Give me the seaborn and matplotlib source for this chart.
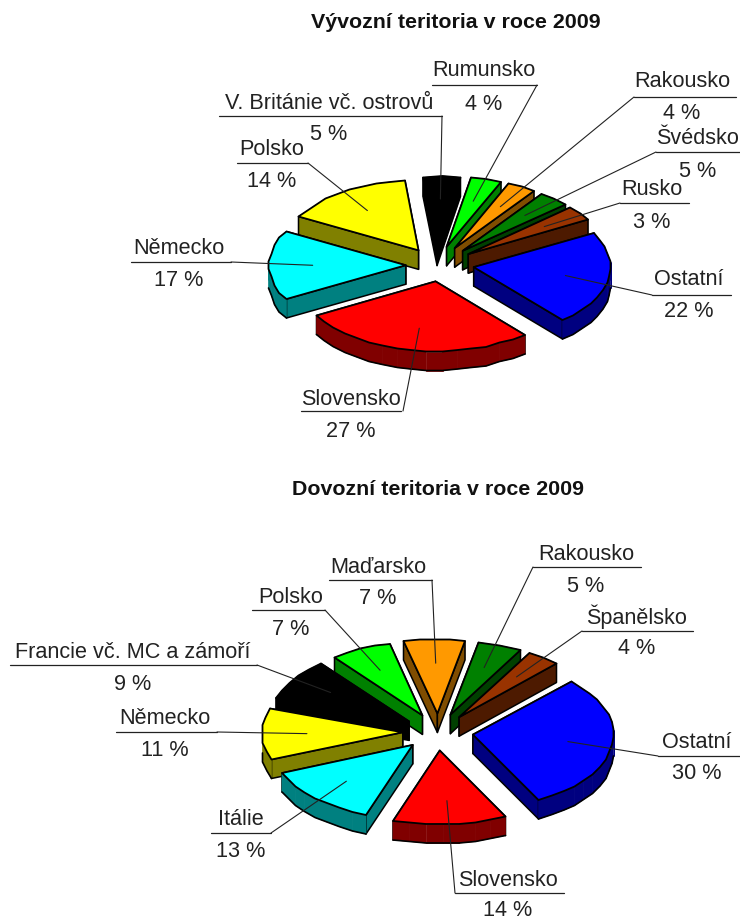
import matplotlib
matplotlib.use('Agg')
import matplotlib.pyplot as plt
import numpy as np
import seaborn as sns

# data
export_names = ['Ostatní', 'Slovensko', 'Německo', 'Polsko', 'V. Británie vč. ostrovů',
                'Rumunsko', 'Rakousko', 'Švédsko', 'Rusko']
export_values = [22, 27, 17, 14, 5, 4, 4, 5, 3]
export_colors = ['#0000ff', '#ff0000', '#00ffff', '#ffff00', '#000000',
                 '#00ff00', '#ff9900', '#008000', '#993300']

import_names = ['Ostatní', 'Slovensko', 'Itálie', 'Německo', 'Francie vč. MC a zámoří',
                'Polsko', 'Maďarsko', 'Rakousko', 'Španělsko']
import_values = [30, 14, 13, 11, 9, 7, 7, 5, 4]
import_colors = ['#0000ff', '#ff0000', '#00ffff', '#ffff00', '#000000',
                 '#00ff00', '#ff9900', '#008000', '#993300']

# label layout in pixels: text x, text y, rule x0, rule x1, rule y, pct y, leader start x
export_layout = [(689, 278, 652, 731, 296, 310, 652),
                 (351, 398, 301, 401, 412, 430, 403),
                 (179, 247, 131, 231, 263, 279, 231),
                 (272, 148, 237, 308, 164, 180, 308),
                 (329, 102, 219, 442, 117, 133, 442),
                 (484, 69, 432, 537, 86, 103, 537),
                 (682, 80, 634, 736, 98, 112, 634),
                 (698, 137, 656, 740, 153, 170, 656),
                 (652, 188, 620, 689, 204, 221, 620)]
import_layout = [(697, 741, 658, 740, 757, 772, 658),
                 (508, 879, 455, 564, 894, 909, 455),
                 (241, 818, 211, 271, 834, 850, 271),
                 (165, 717, 116, 217, 733, 749, 217),
                 (133, 651, 10, 257, 666, 683, 257),
                 (291, 596, 252, 325, 611, 628, 325),
                 (378, 566, 329, 432, 581, 597, 432),
                 (586, 553, 533, 641, 568, 585, 533),
                 (637, 615, 582, 693, 632, 647, 582)]

# the 3D view rotates some slice edges by a few degrees
export_edge_shift = [0, 0, 5, 3, 8, 6, 5, 3, -2, 0]
import_edge_shift = [0, 0, -3, -1, 0, 0, 0, 0, 0, 0]

INK = '#222222'
LABEL_SIZE = 15.6
TITLE_SIZE = 15.4


def draw_pie(ax, names, values, colors, layout, shift, cx, cy, a, b, depth, start):
    values = np.array(values, dtype=float)
    edges = start + np.concatenate([[0], np.cumsum(values)]) / values.sum() * 360
    order = []
    for i in range(len(values)):
        t0 = edges[i] + shift[i]
        t1 = edges[i + 1] + shift[i + 1]
        mid = np.radians((edges[i] + edges[i + 1]) / 2)
        ax0 = cx + 0.25 * a * np.cos(mid)
        ay0 = cy + 0.25 * b * np.sin(mid)
        order.append((ay0, i, t0, t1, ax0, ay0))

    # back slices first
    for _, i, t0, t1, ax0, ay0 in sorted(order):
        n = max(int((t1 - t0) / 6), 2)
        th = np.radians(np.linspace(t0, t1, n + 1))
        # coarse rounding gives the ragged edge of the old chart
        px = np.round((ax0 + a * np.cos(th)) / 1.5) * 1.5
        py = np.round((ay0 + b * np.sin(th)) / 1.5) * 1.5
        fx = np.r_[ax0, px]
        fy = np.r_[ay0, py]
        face = np.array(matplotlib.colors.to_rgb(colors[i]))
        dark = face * 0.5

        walls = []
        for k in range(len(fx)):
            j = (k + 1) % len(fx)
            qx = [fx[k], fx[j], fx[j], fx[k]]
            qy = [fy[k], fy[j], fy[j] + depth, fy[k] + depth]
            walls.append((np.mean(qy), k == 0 or j == 0, qx, qy))
        for _, radial, qx, qy in sorted(walls, key=lambda w: w[0]):
            if radial:
                ax.fill(qx, qy, facecolor=dark, edgecolor='black', lw=1.1, joinstyle='round')
            else:
                ax.fill(qx, qy, facecolor=dark, edgecolor=dark, lw=0.5)
        # lower rim of the outer wall
        rim = np.sin(th) > -0.02
        if rim.any():
            ax.plot(px[rim], py[rim] + depth, color='black', lw=1.2)
        ax.fill(fx, fy, facecolor=face, edgecolor='black', lw=1.3, joinstyle='round')

    for _, i, t0, t1, ax0, ay0 in order:
        tx, ty, r0, r1, ry, pct_y, lx = layout[i]
        m = np.radians((t0 + t1) / 2)
        ex = ax0 + 0.68 * a * np.cos(m)
        ey = ay0 + 0.68 * b * np.sin(m)
        ax.plot([r0, r1], [ry, ry], color=INK, lw=0.9, zorder=5)
        ax.plot([lx, ex], [ry, ey], color=INK, lw=0.8, zorder=5)
        ax.text(tx, ty + 1.5, names[i], ha='center', va='center', fontsize=LABEL_SIZE,
                color=INK, zorder=6)
        ax.text(tx, pct_y + 1.5, '{} %'.format(int(values[i])), ha='center', va='center',
                fontsize=LABEL_SIZE, color=INK, zorder=6)


sns.set_theme(style='white')
plt.rcParams['font.family'] = ['Liberation Sans', 'DejaVu Sans']

fig = plt.figure(figsize=(7.4, 9.2), dpi=100)
ax = fig.add_axes([0, 0, 1, 1])
ax.set_xlim(0, 740)
ax.set_ylim(920, 0)
ax.axis('off')

ax.text(456, 23, 'Vývozní teritoria v roce 2009', ha='center', va='center',
        fontsize=TITLE_SIZE, fontweight='bold', color='#111111')
ax.text(438, 490, 'Dovozní teritoria v roce 2009', ha='center', va='center',
        fontsize=TITLE_SIZE, fontweight='bold', color='#111111')

draw_pie(ax, export_names, export_values, export_colors, export_layout, export_edge_shift,
         440, 265, 137, 70, 19, -29)
draw_pie(ax, import_names, import_values, import_colors, import_layout, import_edge_shift,
         438, 733, 141, 74, 19, -46)

fig.savefig('out.png', dpi=100)
